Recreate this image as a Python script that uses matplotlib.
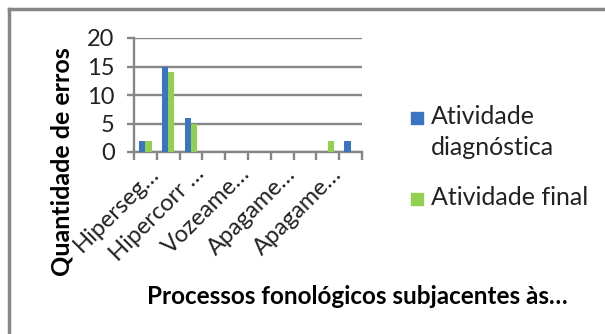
import matplotlib.pyplot as plt
import matplotlib.transforms as mtransforms
from matplotlib.patches import Rectangle
from matplotlib.lines import Line2D
import numpy as np

# data
categories = ['Hiperseg…', '', 'Hipercorr …', '', 'Vozeame…', '',
              'Apagame…', '', 'Apagame…', '']
diagnostica = [2, 15, 6, 0, 0, 0, 0, 0, 0, 2]
final = [2, 14, 5, 0, 0, 0, 0, 0, 2, 0]
series_names = ['Atividade\ndiagnóstica', 'Atividade final']
yticks = [0, 5, 10, 15, 20]

blue = '#3b74c2'
green = '#92d050'
gray = '#868686'

plt.rcParams['font.family'] = ['Lato', 'DejaVu Sans']

fig = plt.figure(figsize=(6.05, 3.34), dpi=100)
W, H = 605, 334
ax = fig.add_axes([134 / W, 1 - 152 / H, 228 / W, 114 / H])

x = np.arange(len(categories))
w = 0.27
ax.bar(x - w / 2, diagnostica, w, color=blue, zorder=3)
ax.bar(x + w / 2, final, w, color=green, zorder=3)

ax.set_xlim(-0.5, len(categories) - 0.5)
ax.set_ylim(0, 20)
ax.set_yticks(yticks)
ax.set_yticklabels([str(v) for v in yticks], fontsize=17, color='#222222')
ax.yaxis.grid(True, color=gray, linewidth=1.7, zorder=0)
ax.tick_params(axis='y', length=5, width=1.7, color=gray, pad=9)

# category boundary tick marks
ax.set_xticks(np.arange(-0.5, len(categories)), minor=True)
ax.tick_params(axis='x', which='minor', length=6, width=1.7, color=gray)
ax.set_xticks(x)
ax.set_xticklabels(categories, rotation=45, ha='right', va='center',
                   rotation_mode='anchor', fontsize=17, color='#222222')
ax.tick_params(axis='x', which='major', length=0, pad=9)
shift = mtransforms.ScaledTranslation(0.10, -0.06, fig.dpi_scale_trans)
for lab in ax.get_xticklabels():
    lab.set_transform(lab.get_transform() + shift)

for s in ['top', 'right']:
    ax.spines[s].set_visible(False)
for s in ['left', 'bottom']:
    ax.spines[s].set_color(gray)
    ax.spines[s].set_linewidth(1.7)

fig.text(62 / W, 1 - 162 / H, 'Quantidade de erros', rotation=90,
         ha='center', va='center', fontsize=18, fontweight='bold')
fig.text(357 / W, 1 - 296 / H, 'Processos fonológicos subjacentes às…',
         ha='center', va='center', fontsize=17.5, fontweight='bold')

# legend
for (yy, name, col) in [(118, series_names[0], blue), (199, series_names[1], green)]:
    fig.patches.append(Rectangle((411 / W, 1 - (yy + 6) / H), 12 / W, 12 / H,
                                 transform=fig.transFigure, color=col))
    fig.text(431 / W, 1 - (yy - 13) / H, name, ha='left', va='top',
             fontsize=18, color='#222222', linespacing=1.42)

# chart border (top and left visible)
fig.add_artist(Line2D([9 / W, 9 / W], [0, 1 - 9 / H], transform=fig.transFigure,
                      color=gray, linewidth=2.5))
fig.add_artist(Line2D([9 / W, 1], [1 - 9 / H, 1 - 9 / H], transform=fig.transFigure,
                      color=gray, linewidth=2.5))

fig.savefig('out.png', dpi=100)
